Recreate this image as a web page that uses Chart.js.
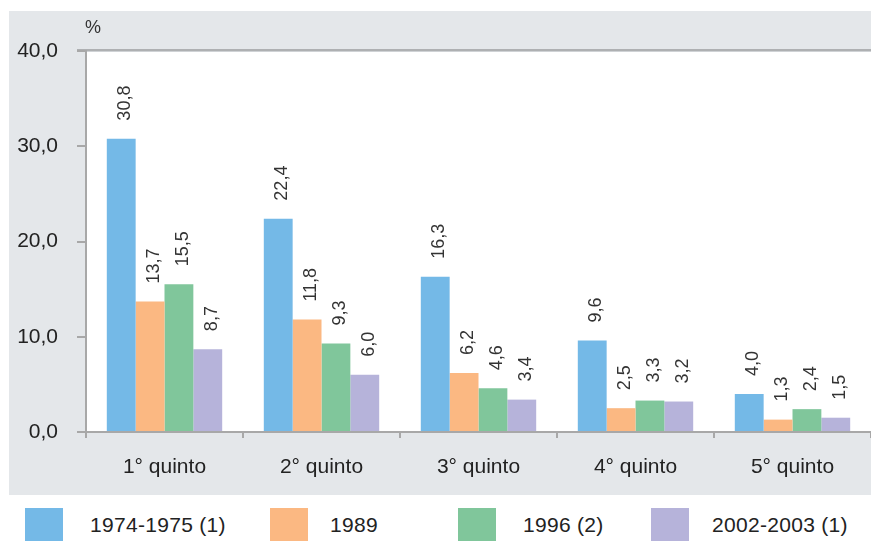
<!DOCTYPE html>
<html>
<head>
<meta charset="utf-8">
<script src="https://cdn.jsdelivr.net/npm/chart.js@4.4.0/dist/chart.umd.min.js"></script>
<style>
  body { margin: 0; background: #fff; width: 871px; height: 541px; overflow: hidden; position: relative; font-family: "Liberation Sans", Arial, sans-serif; }
  #chartBox { position: absolute; left: 9px; top: 11px; width: 862px; height: 484px; background: #e4e7ea; }
  .legItem { position: absolute; top: 508px; height: 40px; }
  .legBox { position: absolute; left: 0; top: 0; width: 38px; height: 40px; }
  .legText { position: absolute; top: 5px; font-size: 21px; color: #222; white-space: nowrap; letter-spacing: 0.3px; }
</style>
</head>
<body>
<div id="chartBox"><canvas id="chart"></canvas></div>
<div id="legend"></div>
<script>
const categories = ["1° quinto", "2° quinto", "3° quinto", "4° quinto", "5° quinto"];
const seriesNames = ["1974-1975 (1)", "1989", "1996 (2)", "2002-2003 (1)"];
const values1974 = [30.8, 22.4, 16.3, 9.6, 4.0];
const values1989 = [13.7, 11.8, 6.2, 2.5, 1.3];
const values1996 = [15.5, 9.3, 4.6, 3.3, 2.4];
const values2002 = [8.7, 6.0, 3.4, 3.2, 1.5];
const yTicks = [0, 10, 20, 30, 40];

const colors = ["#74b9e7", "#fbb882", "#80c69b", "#b6b3da"];
// legend layout (box left, text offset)
const legendLeft = [25, 270, 458, 651];
const legendTextOffset = [65, 60, 65, 61];

const fmt = (v) => v.toFixed(1).replace(".", ",");
const font = "Liberation Sans, Arial, sans-serif";

// Legend
const legend = document.getElementById("legend");
seriesNames.forEach((name, i) => {
    const item = document.createElement("div");
    item.className = "legItem";
    item.style.left = legendLeft[i] + "px";
    item.innerHTML = `<div class="legBox" style="background:${colors[i]}"></div>
        <div class="legText" style="left:${legendTextOffset[i]}px">${name}</div>`;
    legend.appendChild(item);
});

// white plot area + top border + % label
const plotBackground = {
    id: "plotBackground",
    beforeDraw(chart) {
        const { ctx, chartArea: a } = chart;
        ctx.save();
        ctx.fillStyle = "#ffffff";
        ctx.fillRect(a.left, a.top, a.right - a.left, a.bottom - a.top);
        ctx.fillStyle = "#aeb0b2";
        ctx.fillRect(a.left - 9, a.top - 2, a.right - a.left + 9, 2);
        ctx.fillStyle = "#cfd2d5";
        ctx.fillRect(a.left, a.top, a.right - a.left, 1);
        ctx.fillStyle = "#333";
        ctx.font = "18px " + font;
        ctx.textAlign = "left";
        ctx.textBaseline = "middle";
        ctx.fillText("%", a.left - 1, a.top - 23);
        ctx.restore();
    }
};

// rotated value labels above bars
const valueLabels = {
    id: "valueLabels",
    afterDatasetsDraw(chart) {
        const { ctx } = chart;
        ctx.save();
        ctx.fillStyle = "#333";
        ctx.font = "18px " + font;
        ctx.textAlign = "left";
        ctx.textBaseline = "middle";
        chart.data.datasets.forEach((ds, di) => {
            chart.getDatasetMeta(di).data.forEach((bar, i) => {
                ctx.save();
                ctx.translate(bar.x + 4, bar.y - 18);
                ctx.rotate(-Math.PI / 2);
                ctx.fillText(fmt(ds.data[i]), 0, 0);
                ctx.restore();
            });
        });
        ctx.restore();
    }
};

new Chart(document.getElementById("chart"), {
    type: "bar",
    data: {
        labels: categories,
        datasets: [values1974, values1989, values1996, values2002].map((d, i) => ({
            label: seriesNames[i],
            data: d,
            backgroundColor: colors[i],
            borderWidth: 0,
            categoryPercentage: 0.735,
            barPercentage: 1.0,
        })),
    },
    options: {
        responsive: true,
        maintainAspectRatio: false,
        animation: false,
        layout: { padding: { top: 40, left: 0, right: 0, bottom: 0 } },
        plugins: {
            legend: { display: false },
            tooltip: { enabled: false },
        },
        scales: {
            x: {
                grid: { display: true, drawOnChartArea: false, drawTicks: true, tickLength: 6, color: "#a8a8a8", lineWidth: 2, offset: true },
                border: { display: true, color: "#a8a8a8", width: 2 },
                ticks: { color: "#222", font: { size: 21, family: font }, padding: 17 },
                afterFit: (scale) => { scale.height = 63; },
            },
            y: {
                min: 0,
                max: 40,
                afterBuildTicks: (scale) => { scale.ticks = yTicks.map((v) => ({ value: v })); },
                grid: { display: true, drawOnChartArea: false, drawTicks: true, tickLength: 9, color: "#a8a8a8", lineWidth: 2 },
                border: { display: true, color: "#a8a8a8", width: 2 },
                ticks: { color: "#222", font: { size: 21, family: font }, padding: 19, callback: (v) => fmt(v) },
                afterFit: (scale) => { scale.width = 77; },
            },
        },
    },
    plugins: [plotBackground, valueLabels],
});
</script>
</body>
</html>
